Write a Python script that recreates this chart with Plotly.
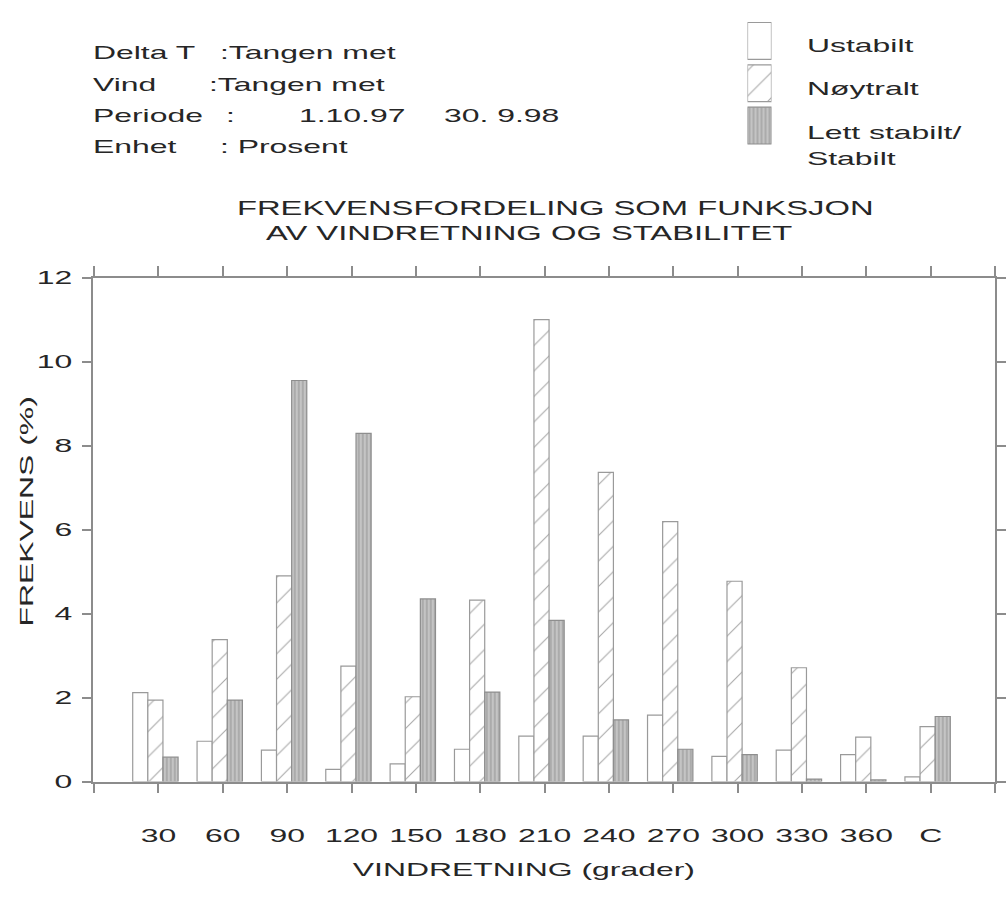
import plotly.graph_objects as go

# ---- data -------------------------------------------------------------
directions = ["30", "60", "90", "120", "150", "180", "210", "240",
              "270", "300", "330", "360", "C"]
ustabilt = [2.12, 0.96, 0.75, 0.29, 0.42, 0.77, 1.08, 1.08, 1.58, 0.60, 0.75, 0.64, 0.11]
noytralt = [1.94, 3.38, 4.90, 2.75, 2.02, 4.32, 11.00, 7.36, 6.19, 4.77, 2.71, 1.06, 1.31]
stabilt = [0.58, 1.94, 9.55, 8.29, 4.35, 2.13, 3.84, 1.47, 0.77, 0.64, 0.06, 0.04, 1.55]
y_ticks = [0, 2, 4, 6, 8, 10, 12]

# ---- canvas helpers (pixel -> paper) ----------------------------------
W, H = 1006, 900
def fx(px):
    return px / W
def fy(py):
    return 1 - py / H

FONT = "Liberation Sans"
TXT = "#262626"
AXC = "#8c8c8c"
EDGE = "#9a9a9a"
STRETCH = 1.68   # wide (extended) lettering along the baseline

styles = {
    "Ustabilt": dict(color="white", line=dict(color=EDGE, width=1.2)),
    "Nøytralt": dict(color="white", line=dict(color=EDGE, width=1.2),
                      pattern=dict(shape="/", fgcolor="#a8a8a8", bgcolor="white",
                                   size=18, solidity=0.06, fillmode="replace")),
    "Stabil": dict(color="#c2c2c2", line=dict(color="#8e8e8e", width=1.2),
                   pattern=dict(shape="|", fgcolor="#9a9a9a", bgcolor="#c4c4c4",
                                size=4, solidity=0.3, fillmode="replace")),
}

series = [("Ustabilt", ustabilt, -0.40), ("Nøytralt", noytralt, -0.165), ("Stabil", stabilt, 0.07)]
xpos = list(range(len(directions)))

fig = go.Figure()
for name, vals, off in series:
    fig.add_trace(go.Bar(x=xpos, y=vals, name=name, width=0.235, offset=off,
                         marker=styles[name], showlegend=False,
                         xaxis="x", yaxis="y"))

# legend swatches drawn as bars on a small auxiliary axis pair
for i, (name, _, _) in enumerate(series):
    fig.add_trace(go.Bar(x=[1], y=[i], orientation="h", width=0.87, base=0,
                         marker=styles[name], showlegend=False, hoverinfo="skip",
                         xaxis="x2", yaxis="y2"))

tickvals = list(range(-1, len(directions) + 1))
ticktext = [""] + directions + [""]

axis_common = dict(showline=True, linecolor=AXC, linewidth=1.5, mirror="ticks",
                   ticks="outside", tickcolor=AXC, tickwidth=1.5, showgrid=False,
                   zeroline=False, tickfont=dict(family=FONT, size=19, color=TXT))

fig.update_layout(
    width=W, height=H,
    margin=dict(l=0, r=0, t=0, b=0),
    paper_bgcolor="white", plot_bgcolor="white",
    barmode="overlay",
    showlegend=False,
    xaxis=dict(domain=[fx(93), fx(997)], range=[-1.02, 13.0],
               tickmode="array", tickvals=tickvals, ticktext=ticktext,
               ticklen=10, ticklabelstandoff=26, **axis_common),
    yaxis=dict(domain=[fy(790), fy(274)], range=[0, 12],
               tickmode="array", tickvals=y_ticks, ticktext=[str(v) for v in y_ticks],
               ticklen=9, ticklabelstandoff=6, **axis_common),
    xaxis2=dict(domain=[fx(749), fx(773)], range=[0, 1], visible=False, anchor="y2"),
    yaxis2=dict(domain=[fy(140), fy(10)], range=[2.5, -0.5], visible=False, anchor="x2"),
)

def label(text, x, y, size=19, xanchor="left", angle=0):
    fig.add_annotation(text=text, x=fx(x), y=fy(y), xref="paper", yref="paper",
                       xanchor=xanchor, yanchor="middle", align="left" if xanchor == "left" else "center",
                       showarrow=False, textangle=angle,
                       font=dict(family=FONT, size=size, color=TXT))

# header block
label("Delta T", 91, 44)
label(":Tangen met", 218, 44)
label("Vind", 91, 76)
label(":Tangen met", 207, 76)
label("Periode", 91, 108)
label(":", 224, 108)
label("1.10.97", 298, 108)
label("30. 9.98", 443, 108)
label("Enhet", 91, 140)
label(": Prosent", 218, 140)

# legend labels
label("Ustabilt", 807, 36)
label("Nøytralt", 807, 80)
label("Lett stabilt/", 807, 125)
label("Stabilt", 807, 152)

# chart title
label("FREKVENSFORDELING SOM FUNKSJON", 235, 203, size=19.5)
label("AV VINDRETNING OG STABILITET", 265, 228, size=19.5)

# axis titles
label("VINDRETNING (grader)", 525, 880, xanchor="center")
label("FREKVENS (%)", 26, 513, xanchor="center", angle=-90)

post_js = """
document.body.style.margin = '0';
var gd = document.getElementById('{plot_id}');
gd.querySelectorAll('svg text').forEach(function (t) {
  var x = parseFloat(t.getAttribute('x')) || 0;
  var tr = t.getAttribute('transform') || '';
  t.setAttribute('transform', tr + ' translate(' + x + ',0) scale(SX,1) translate(' + (-x) + ',0)');
});
""".replace("SX", str(STRETCH))

fig.write_html("out.html", post_script=post_js, config={"displayModeBar": False})
